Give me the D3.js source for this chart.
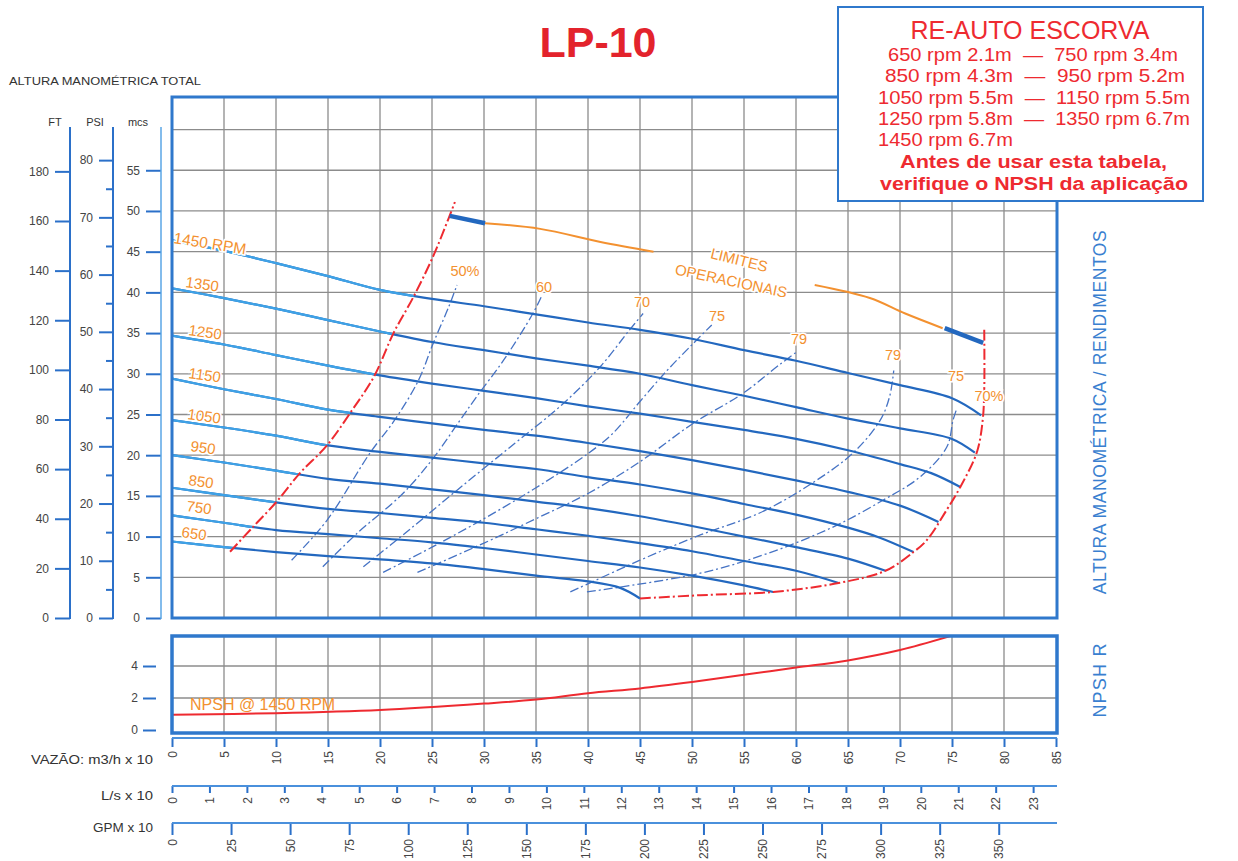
<!DOCTYPE html>
<html><head><meta charset="utf-8">
<script src="https://cdn.jsdelivr.net/npm/d3@7"></script>
<style>
body{margin:0;background:#fff}
text{font-family:"Liberation Sans",Arial,Helvetica,sans-serif}
</style>
</head><body>
<svg id="c" width="1238" height="861"></svg>
<script>
// ---------------- DATA ----------------
const flowTicks = d3.range(0, 90, 5);          // m3/h x10
const lsTicks = d3.range(0, 24, 1);            // L/s x10
const gpmTicks = d3.range(0, 375, 25);         // GPM x10
const ftTicks = d3.range(0, 200, 20);
const psiTicks = d3.range(0, 85, 5);
const mcsTicks = d3.range(0, 60, 5);
const npshTicks = [0, 2, 4];
const gridH = d3.range(5, 65, 5);

const rpmLabels = ["1450 RPM", "1350", "1250", "1150", "1050", "950", "850", "750", "650"];
const c1450 = [[0,46.4],[5,45.1],[10,43.6],[15,42.0],[20,40.3],[25,39.2],[30,38.3],[35,37.3],[40,36.3],[45,35.4],[50,34.3],[55,32.9],[60,31.6],[65,30.1],[70,28.6],[75,27.0],[77.8,24.9]];
const c1350 = [[0,40.5],[5,39.3],[10,38.0],[15,36.6],[20,35.2],[25,33.9],[30,32.9],[35,31.9],[40,31.0],[45,30.0],[50,28.6],[55,27.3],[60,25.9],[65,24.5],[70,23.3],[75,22.0],[77.2,20.3]];
const c1250 = [[0,34.7],[5,33.6],[10,32.3],[15,31.0],[20,29.8],[25,28.8],[30,27.9],[35,27.0],[40,26.0],[45,25.1],[50,24.1],[55,23.1],[60,22.0],[65,20.6],[70,18.9],[73,17.8],[75.8,16.1]];
const c1150 = [[0,29.4],[5,28.1],[10,26.9],[15,25.6],[20,24.7],[25,23.9],[30,23.1],[35,22.4],[40,21.5],[45,20.5],[50,19.4],[55,18.2],[60,16.9],[65,15.5],[70,13.8],[73.7,11.8]];
const c1050 = [[0,24.3],[5,23.4],[10,22.4],[15,21.2],[20,20.4],[25,19.7],[30,19.0],[35,18.3],[40,17.3],[45,16.4],[50,15.3],[55,14.0],[60,12.7],[65,11.1],[68,9.9],[71.3,8.1]];
const c950  = [[0,20.0],[5,19.1],[10,18.1],[15,17.1],[20,16.5],[25,15.8],[30,15.1],[35,14.3],[40,13.5],[45,12.5],[50,11.3],[55,10.0],[60,8.7],[65,7.3],[68.6,5.8]];
const c850  = [[0,16.0],[5,15.1],[10,14.2],[15,13.4],[20,12.9],[25,12.3],[30,11.7],[35,10.9],[40,10.1],[45,9.2],[50,8.2],[55,7.0],[60,5.8],[64.1,4.3]];
const c750  = [[0,12.6],[5,11.7],[10,10.8],[15,10.3],[20,9.8],[25,9.3],[30,8.6],[35,7.8],[40,7.0],[45,6.2],[50,5.2],[55,4.0],[57.8,3.2]];
const c650  = [[0,9.4],[5,8.7],[10,8.1],[15,7.6],[20,7.2],[25,6.7],[30,6.0],[35,5.2],[40,4.5],[43.1,3.7],[45,2.4]];
const rpmCurves = [c1450, c1350, c1250, c1150, c1050, c950, c850, c750, c650];

const effLabels = ["50%", "60", "70", "75", "79", "79", "75"];
const eff50  = [[11.5,7.1],[14.9,12.0],[19.0,20.2],[21.4,24.3],[23.7,29.2],[25.1,33.7],[26.6,38.2],[27.4,40.9]];
const eff60  = [[14.5,6.3],[17.8,10.4],[22.2,15.3],[25.1,19.6],[27.7,24.3],[29.3,27.2],[31.9,31.7],[34.7,37.4],[35.6,39.7]];
const eff70  = [[18.4,6.3],[22.5,10.5],[27.5,15.8],[33,21.5],[37.5,26.2],[41.2,30.9],[44,35.4],[45.3,37.4]];
const eff75  = [[20.3,5.6],[25,8.7],[30,12.2],[35,16.0],[40,20.2],[42.4,22.7],[45,26.6],[47.6,30.4],[50.1,33.7],[51.9,36.0]];
const eff79a = [[23.6,5.6],[30,9.2],[35,12.2],[40,15.3],[45,19.2],[50.1,23.9],[54.9,27.6],[58.5,31.2],[60.2,32.8]];
const eff79b = [[38.3,3.2],[45,7.1],[50.8,10.2],[56.5,12.9],[61.6,16.6],[65.5,20.3],[68.1,24.3],[69,27.2],[69.4,30.4]];
const eff75b = [[39.9,3.2],[50.8,5.5],[57.2,7.9],[63.6,11.2],[68.4,14.5],[71.9,17.3],[74.5,21.0],[75.1,24.3],[75.4,25.5]];
const effCurves = [eff50, eff60, eff70, eff75, eff79a, eff79b, eff75b];

const redLeft  = [[5.58,8.14],[7.8,11.2],[10.07,14.3],[12.3,17.8],[14.9,21.2],[17.3,25.5],[19.4,29.6],[21.3,35.0],[23.2,39.4],[25.1,44.4],[26.6,49.1],[27.2,51.1]];
const redRight = [[45,2.4],[50.8,2.8],[57.8,3.2],[64.1,4.3],[68.6,5.8],[71.3,8.1],[72.6,9.6],[74.5,13.3],[75.8,16.1],[77.4,20.4],[77.95,24.3],[78.1,28.0],[78.1,35.4]];

const limBlue1 = [[26.7,49.4],[30.1,48.5]];
const limOrange1 = [[30.1,48.5],[35.4,47.8],[41.2,46.2],[46.3,45.0]];
const limOrange2 = [[61.8,40.9],[67.1,39.3],[70.5,37.4],[74.1,35.6]];
const limBlue2 = [[74.3,35.6],[78,33.8]];

const npsh = [[0,0.95],[10,1.05],[20,1.25],[30,1.65],[35,1.9],[40,2.3],[45,2.6],[50,3.0],[55,3.45],[60,3.9],[65,4.35],[70,5.0],[75,5.9]];

const boxLines = ["650 rpm 2.1m  —  750 rpm 3.4m", "850 rpm 4.3m  —  950 rpm 5.2m",
  "1050 rpm 5.5m  —  1150 rpm 5.5m", "1250 rpm 5.8m  —  1350 rpm 6.7m"];
const boxLast = "1450 rpm 6.7m";
const boxWarn = ["Antes de usar esta tabela,", "verifique o NPSH da aplicação"];

// ---------------- LAYOUT ----------------
const svg = d3.select("#c");
const L = 172, R = 1057, T = 97, B = 618;
const NT = 636, NB = 733;
const blue = "#2b70c9", frameBlue = "#2f78cc", grid = "#8c8c8c";
const red = "#ee2a30", orange = "#f39130";
const light = "#3ea2e6", dark = "#2368bf", effC = "#4673c4";

const x = d3.scaleLinear([0, 85], [L, 1056]);
const y = d3.scaleLinear([0, 64], [B, T]);
const yN = d3.scaleLinear([0, 6], [730, 634]);

const defs = svg.append("defs");
defs.append("clipPath").attr("id", "plot").append("rect")
  .attr("x", L).attr("y", T).attr("width", R - L).attr("height", B - T);
defs.append("clipPath").attr("id", "nclip").append("rect")
  .attr("x", L).attr("y", NT).attr("width", R - L).attr("height", NB - NT);
const leftPoly = [[0, 0], [redLeft[0][0], 0]].concat(redLeft, [[28.6, 64], [0, 64]]);
defs.append("clipPath").attr("id", "leftc").append("path")
  .attr("d", d3.line().x(d => x(d[0])).y(d => y(d[1]))(leftPoly) + "Z");

// ---------- Title ----------
svg.append("text").attr("x", 598).attr("y", 57).attr("text-anchor", "middle")
  .attr("font-size", 43).attr("font-weight", "bold").attr("fill", "#e3232c").text("LP-10");

// ---------- grid main ----------
const gMain = svg.append("g");
gMain.selectAll(".vg").data(flowTicks.filter(d => d > 0 && d < 85)).join("line")
  .attr("x1", d => x(d)).attr("x2", d => x(d)).attr("y1", T).attr("y2", B)
  .attr("stroke", grid).attr("stroke-width", 1.3);
gMain.selectAll(".hg").data(gridH).join("line")
  .attr("x1", L).attr("x2", R).attr("y1", d => y(d)).attr("y2", d => y(d))
  .attr("stroke", grid).attr("stroke-width", 1.3);

// ---------- grid NPSH ----------
const gN = svg.append("g");
gN.selectAll("line.v").data(flowTicks.filter(d => d > 0 && d < 85)).join("line")
  .attr("x1", d => x(d)).attr("x2", d => x(d)).attr("y1", NT).attr("y2", NB)
  .attr("stroke", grid).attr("stroke-width", 1.3);
gN.selectAll("line.h").data([2, 4]).join("line").attr("class", "h")
  .attr("x1", L).attr("x2", R).attr("y1", d => yN(d)).attr("y2", d => yN(d))
  .attr("stroke", grid).attr("stroke-width", 1.3);

// ---------- curves ----------
const line = d3.line().x(d => x(d[0])).y(d => y(d[1])).curve(d3.curveCatmullRom.alpha(0.5));
const lineN = d3.line().x(d => x(d[0])).y(d => yN(d[1])).curve(d3.curveCatmullRom.alpha(0.5));
const plot = svg.append("g").attr("clip-path", "url(#plot)");

plot.selectAll("path.eff").data(effCurves).join("path")
  .attr("d", line).attr("fill", "none").attr("stroke", effC).attr("stroke-width", 1.3)
  .attr("stroke-dasharray", "9,3,2,3");

plot.selectAll("path.rd").data(rpmCurves).join("path").attr("class", "rd")
  .attr("d", line).attr("fill", "none").attr("stroke", dark).attr("stroke-width", 2.2);
plot.append("g").attr("clip-path", "url(#leftc)")
  .selectAll("path").data(rpmCurves).join("path")
  .attr("d", line).attr("fill", "none").attr("stroke", light).attr("stroke-width", 2.2);

[redLeft, redRight].forEach(d => plot.append("path").attr("d", line(d)).attr("fill", "none")
  .attr("stroke", red).attr("stroke-width", 2).attr("stroke-dasharray", "11,3,2,3"));

const straight = d3.line().x(d => x(d[0])).y(d => y(d[1])).curve(d3.curveCatmullRom);
[limOrange1, limOrange2].forEach(d => plot.append("path").attr("d", straight(d)).attr("fill", "none")
  .attr("stroke", orange).attr("stroke-width", 2));
[limBlue1, limBlue2].forEach(d => plot.append("path").attr("d", straight(d)).attr("fill", "none")
  .attr("stroke", dark).attr("stroke-width", 4.5));

// ---------- labels in plot ----------
function otext(px, py, t, ang, size, anchor) {
  svg.append("text").attr("transform", `translate(${px},${py}) rotate(${ang})`)
    .attr("font-size", size).attr("fill", orange).attr("text-anchor", anchor || "start")
    .attr("stroke", "#fff").attr("stroke-width", 3).attr("paint-order", "stroke").text(t);
}
const rpmLabPos = [[173, 243, 9], [185, 287, 8], [188, 335, 8], [188, 378, 8], [187, 419, 8], [190, 451, 8], [188, 485, 8], [186, 511, 8], [181, 537, 8]];
rpmLabels.forEach((t, i) => otext(rpmLabPos[i][0], rpmLabPos[i][1], t, rpmLabPos[i][2], i === 0 ? 15.5 : 15));
const effLabPos = [[465, 276], [544, 292], [642, 307], [717, 321], [799, 344], [893, 360], [956, 381]];
effLabels.forEach((t, i) => otext(effLabPos[i][0], effLabPos[i][1], t, 0, 14.5, "middle"));
otext(989, 401, "70%", 0, 14.5, "middle");
otext(738, 265, "LIMITES", 14, 15, "middle");
otext(730, 286, "OPERACIONAIS", 12, 15, "middle");

// ---------- NPSH curve ----------
svg.append("g").attr("clip-path", "url(#nclip)").append("path").attr("d", lineN(npsh))
  .attr("fill", "none").attr("stroke", red).attr("stroke-width", 2);
svg.append("text").attr("x", 190).attr("y", 710).attr("font-size", 16).attr("fill", orange)
  .text("NPSH @ 1450 RPM");

// ---------- frames ----------
svg.append("rect").attr("x", L).attr("y", T).attr("width", R - L).attr("height", B - T)
  .attr("fill", "none").attr("stroke", frameBlue).attr("stroke-width", 3);
svg.append("rect").attr("x", L).attr("y", NT).attr("width", R - L).attr("height", NB - NT)
  .attr("fill", "none").attr("stroke", frameBlue).attr("stroke-width", 3.5);

// ---------- info box ----------
const bx = svg.append("g");
bx.append("rect").attr("x", 838).attr("y", 7).attr("width", 365).attr("height", 194)
  .attr("fill", "#fff").attr("stroke", frameBlue).attr("stroke-width", 2);
bx.append("text").attr("x", 1030).attr("y", 39).attr("text-anchor", "middle").attr("font-size", 25)
  .attr("fill", red).text("RE-AUTO ESCORVA");
const boxSpan = [[888, 290], [885, 300], [878, 312], [878, 312]];
boxLines.forEach((t, i) => bx.append("text").attr("x", boxSpan[i][0]).attr("y", 61 + i * 21.3)
  .attr("textLength", boxSpan[i][1]).attr("lengthAdjust", "spacingAndGlyphs")
  .attr("font-size", 17.5).attr("fill", red).attr("xml:space", "preserve").text(t));
bx.append("text").attr("x", 878).attr("y", 146).attr("font-size", 17.5).attr("fill", red)
  .attr("textLength", 135).attr("lengthAdjust", "spacingAndGlyphs").text(boxLast);
const warnSpan = [[900, 267], [880, 308]];
boxWarn.forEach((t, i) => bx.append("text").attr("x", warnSpan[i][0]).attr("y", 168 + i * 22)
  .attr("textLength", warnSpan[i][1]).attr("lengthAdjust", "spacingAndGlyphs")
  .attr("font-size", 17.5).attr("font-weight", "bold").attr("fill", red).text(t));

// ---------- left axes ----------
svg.append("text").attr("x", 9).attr("y", 85).attr("font-size", 11.5).attr("fill", "#333")
  .attr("textLength", 192).attr("lengthAdjust", "spacingAndGlyphs").text("ALTURA MANOMÉTRICA TOTAL");
[["FT", 55], ["PSI", 95], ["mcs", 138]].forEach(([t, cx]) =>
  svg.append("text").attr("x", cx).attr("y", 126).attr("text-anchor", "middle").attr("font-size", 11)
    .attr("fill", "#333").text(t));

const ftScale = d3.scaleLinear([0, 64 / 0.3048], [B, T]);
const psiScale = d3.scaleLinear([0, 64 / 0.70307], [B, T]);
function styleAxis(g) {
  g.select(".domain").remove();
  g.selectAll(".tick line").attr("stroke", blue).attr("stroke-width", 2);
  g.selectAll(".tick text").attr("fill", "#444").attr("font-size", 12)
    .attr("font-family", "Liberation Sans, Arial, sans-serif");
}
svg.append("g").attr("transform", "translate(70,0)")
  .call(d3.axisLeft(ftScale).tickValues(ftTicks).tickSize(15).tickPadding(6)).call(styleAxis);
const axPsi = svg.append("g").attr("transform", "translate(113,0)")
  .call(d3.axisLeft(psiScale).tickValues(psiTicks).tickSize(14).tickPadding(6)
    .tickFormat(d => d % 10 === 0 ? d : "")).call(styleAxis);
axPsi.selectAll(".tick line").attr("x2", d => d % 10 === 0 ? -14 : -7);
svg.append("g").attr("transform", "translate(161,0)")
  .call(d3.axisLeft(y).tickValues(mcsTicks).tickSize(15).tickPadding(6)).call(styleAxis);
[[70, blue, 2], [113, blue, 2], [161, "#5aa6e6", 1.5]].forEach(([lx, c, w]) =>
  svg.append("line").attr("x1", lx).attr("x2", lx).attr("y1", 127).attr("y2", 619)
    .attr("stroke", c).attr("stroke-width", w));

svg.append("g").attr("transform", "translate(156,0)")
  .call(d3.axisLeft(yN).tickValues(npshTicks).tickFormat(d3.format("d")).tickSize(13).tickPadding(5))
  .call(styleAxis);

// ---------- right labels ----------
svg.append("text").attr("transform", "translate(1106,412) rotate(-90)").attr("text-anchor", "middle")
  .attr("font-size", 17.5).attr("letter-spacing", 0.6).attr("fill", "#3a7fd0").text("ALTURA MANOMÉTRICA / RENDIMENTOS");
svg.append("text").attr("transform", "translate(1106,680) rotate(-90)").attr("text-anchor", "middle")
  .attr("font-size", 18).attr("letter-spacing", 1.2).attr("fill", "#3a7fd0").text("NPSH R");

// ---------- bottom axes ----------
const xLs = d3.scaleLinear([0, 85 / 3.6], [L, 1056]);
const xGpm = d3.scaleLinear([0, 85 / 0.22712], [L, 1056]);
function bottomAxis(scale, ticks, yy, tsize) {
  const g = svg.append("g").attr("transform", `translate(0,${yy})`)
    .call(d3.axisBottom(scale).tickValues(ticks).tickSize(tsize).tickSizeOuter(0));
  g.select(".domain").remove();
  g.append("line").attr("x1", L).attr("x2", R).attr("y1", 0).attr("y2", 0)
    .attr("stroke", "#4a90dc").attr("stroke-width", 2);
  g.selectAll(".tick line").attr("stroke", blue).attr("stroke-width", 2);
  g.selectAll(".tick text").attr("transform", "rotate(-90)").attr("text-anchor", "end")
    .attr("x", -(tsize + 4)).attr("y", 0).attr("dy", "0.35em").attr("fill", "#444")
    .attr("font-size", 12).attr("font-family", "Liberation Sans, Arial, sans-serif");
  return g;
}
bottomAxis(x, flowTicks, 738, 9);
bottomAxis(xLs, lsTicks, 786, 7);
bottomAxis(xGpm, gpmTicks, 823, 12);
[["VAZÃO: m3/h x 10", 764, 122], ["L/s x 10", 800, 52], ["GPM x 10", 832, 60]].forEach(([t, yy, w]) =>
  svg.append("text").attr("x", 153 - w).attr("y", yy).attr("font-size", 12.5)
    .attr("textLength", w).attr("lengthAdjust", "spacingAndGlyphs").attr("fill", "#333").text(t));
</script>
</body></html>
